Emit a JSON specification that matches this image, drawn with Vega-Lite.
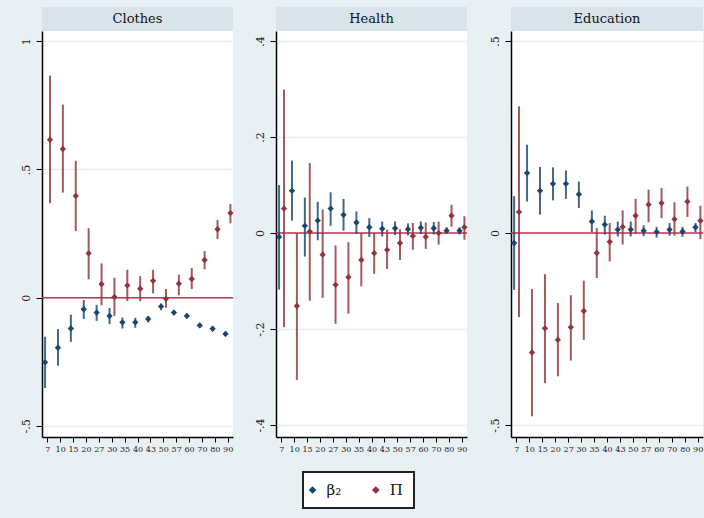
{
  "$schema": "https://vega.github.io/schema/vega-lite/v6.json",
  "background": "#e9f0f3",
  "padding": {"left": 20, "top": 7, "right": 2, "bottom": 10},
  "spacing": 18,
  "data": {"values": [
    {"panel":"Clothes","age":7,"series":"β₂","est":-0.252,"lo":-0.352,"hi":-0.152},
    {"panel":"Clothes","age":10,"series":"β₂","est":-0.195,"lo":-0.265,"hi":-0.122},
    {"panel":"Clothes","age":15,"series":"β₂","est":-0.12,"lo":-0.172,"hi":-0.066},
    {"panel":"Clothes","age":20,"series":"β₂","est":-0.045,"lo":-0.083,"hi":-0.009},
    {"panel":"Clothes","age":27,"series":"β₂","est":-0.058,"lo":-0.09,"hi":-0.028},
    {"panel":"Clothes","age":30,"series":"β₂","est":-0.071,"lo":-0.103,"hi":-0.04},
    {"panel":"Clothes","age":35,"series":"β₂","est":-0.096,"lo":-0.12,"hi":-0.077},
    {"panel":"Clothes","age":40,"series":"β₂","est":-0.096,"lo":-0.117,"hi":-0.078},
    {"panel":"Clothes","age":43,"series":"β₂","est":-0.083,"lo":-0.096,"hi":-0.071},
    {"panel":"Clothes","age":50,"series":"β₂","est":-0.034,"lo":-0.049,"hi":-0.023},
    {"panel":"Clothes","age":57,"series":"β₂","est":-0.058,"lo":-0.068,"hi":-0.048},
    {"panel":"Clothes","age":60,"series":"β₂","est":-0.071,"lo":-0.081,"hi":-0.061},
    {"panel":"Clothes","age":70,"series":"β₂","est":-0.108,"lo":-0.117,"hi":-0.099},
    {"panel":"Clothes","age":80,"series":"β₂","est":-0.121,"lo":-0.13,"hi":-0.112},
    {"panel":"Clothes","age":90,"series":"β₂","est":-0.141,"lo":-0.15,"hi":-0.132},
    {"panel":"Clothes","age":7,"series":"Π","est":0.616,"lo":0.369,"hi":0.866},
    {"panel":"Clothes","age":10,"series":"Π","est":0.58,"lo":0.41,"hi":0.753},
    {"panel":"Clothes","age":15,"series":"Π","est":0.397,"lo":0.26,"hi":0.534},
    {"panel":"Clothes","age":20,"series":"Π","est":0.173,"lo":0.072,"hi":0.271},
    {"panel":"Clothes","age":27,"series":"Π","est":0.053,"lo":-0.029,"hi":0.134},
    {"panel":"Clothes","age":30,"series":"Π","est":0.003,"lo":-0.071,"hi":0.078},
    {"panel":"Clothes","age":35,"series":"Π","est":0.048,"lo":-0.013,"hi":0.109},
    {"panel":"Clothes","age":40,"series":"Π","est":0.035,"lo":-0.014,"hi":0.084},
    {"panel":"Clothes","age":43,"series":"Π","est":0.066,"lo":0.017,"hi":0.109},
    {"panel":"Clothes","age":50,"series":"Π","est":-0.004,"lo":-0.039,"hi":0.034},
    {"panel":"Clothes","age":57,"series":"Π","est":0.055,"lo":0.01,"hi":0.09},
    {"panel":"Clothes","age":60,"series":"Π","est":0.073,"lo":0.034,"hi":0.116},
    {"panel":"Clothes","age":70,"series":"Π","est":0.147,"lo":0.111,"hi":0.182},
    {"panel":"Clothes","age":80,"series":"Π","est":0.267,"lo":0.229,"hi":0.303},
    {"panel":"Clothes","age":90,"series":"Π","est":0.33,"lo":0.29,"hi":0.365},
    {"panel":"Health","age":7,"series":"β₂","est":-0.008,"lo":-0.118,"hi":0.1},
    {"panel":"Health","age":10,"series":"β₂","est":0.088,"lo":0.026,"hi":0.151},
    {"panel":"Health","age":15,"series":"β₂","est":0.015,"lo":-0.049,"hi":0.074},
    {"panel":"Health","age":20,"series":"β₂","est":0.026,"lo":-0.015,"hi":0.065},
    {"panel":"Health","age":27,"series":"β₂","est":0.051,"lo":0.015,"hi":0.085},
    {"panel":"Health","age":30,"series":"β₂","est":0.038,"lo":0.005,"hi":0.071},
    {"panel":"Health","age":35,"series":"β₂","est":0.022,"lo":-0.002,"hi":0.045},
    {"panel":"Health","age":40,"series":"β₂","est":0.012,"lo":-0.008,"hi":0.031},
    {"panel":"Health","age":43,"series":"β₂","est":0.009,"lo":-0.007,"hi":0.024},
    {"panel":"Health","age":50,"series":"β₂","est":0.01,"lo":-0.004,"hi":0.024},
    {"panel":"Health","age":57,"series":"β₂","est":0.008,"lo":-0.005,"hi":0.02},
    {"panel":"Health","age":60,"series":"β₂","est":0.011,"lo":-0.002,"hi":0.024},
    {"panel":"Health","age":70,"series":"β₂","est":0.01,"lo":-0.003,"hi":0.023},
    {"panel":"Health","age":80,"series":"β₂","est":0.005,"lo":-0.002,"hi":0.012},
    {"panel":"Health","age":90,"series":"β₂","est":0.005,"lo":-0.003,"hi":0.012},
    {"panel":"Health","age":7,"series":"Π","est":0.051,"lo":-0.196,"hi":0.299},
    {"panel":"Health","age":10,"series":"Π","est":-0.152,"lo":-0.306,"hi":0.0},
    {"panel":"Health","age":15,"series":"Π","est":0.003,"lo":-0.141,"hi":0.146},
    {"panel":"Health","age":20,"series":"Π","est":-0.045,"lo":-0.135,"hi":0.049},
    {"panel":"Health","age":27,"series":"Π","est":-0.108,"lo":-0.189,"hi":-0.026},
    {"panel":"Health","age":30,"series":"Π","est":-0.092,"lo":-0.168,"hi":-0.019},
    {"panel":"Health","age":35,"series":"Π","est":-0.056,"lo":-0.111,"hi":0.0},
    {"panel":"Health","age":40,"series":"Π","est":-0.042,"lo":-0.085,"hi":0.0},
    {"panel":"Health","age":43,"series":"Π","est":-0.035,"lo":-0.075,"hi":0.007},
    {"panel":"Health","age":50,"series":"Π","est":-0.021,"lo":-0.056,"hi":0.008},
    {"panel":"Health","age":57,"series":"Π","est":-0.006,"lo":-0.035,"hi":0.021},
    {"panel":"Health","age":60,"series":"Π","est":-0.008,"lo":-0.033,"hi":0.022},
    {"panel":"Health","age":70,"series":"Π","est":0.0,"lo":-0.024,"hi":0.024},
    {"panel":"Health","age":80,"series":"Π","est":0.036,"lo":0.013,"hi":0.059},
    {"panel":"Health","age":90,"series":"Π","est":0.012,"lo":-0.014,"hi":0.035},
    {"panel":"Education","age":7,"series":"β₂","est":-0.026,"lo":-0.148,"hi":0.096},
    {"panel":"Education","age":10,"series":"β₂","est":0.156,"lo":0.082,"hi":0.23},
    {"panel":"Education","age":15,"series":"β₂","est":0.11,"lo":0.048,"hi":0.172},
    {"panel":"Education","age":20,"series":"β₂","est":0.128,"lo":0.085,"hi":0.171},
    {"panel":"Education","age":27,"series":"β₂","est":0.128,"lo":0.089,"hi":0.163},
    {"panel":"Education","age":30,"series":"β₂","est":0.101,"lo":0.065,"hi":0.134},
    {"panel":"Education","age":35,"series":"β₂","est":0.03,"lo":0.002,"hi":0.059},
    {"panel":"Education","age":40,"series":"β₂","est":0.022,"lo":-0.004,"hi":0.045},
    {"panel":"Education","age":43,"series":"β₂","est":0.009,"lo":-0.009,"hi":0.03},
    {"panel":"Education","age":50,"series":"β₂","est":0.009,"lo":-0.009,"hi":0.03},
    {"panel":"Education","age":57,"series":"β₂","est":0.006,"lo":-0.008,"hi":0.02},
    {"panel":"Education","age":60,"series":"β₂","est":0.003,"lo":-0.012,"hi":0.016},
    {"panel":"Education","age":70,"series":"β₂","est":0.009,"lo":-0.007,"hi":0.026},
    {"panel":"Education","age":80,"series":"β₂","est":0.004,"lo":-0.01,"hi":0.016},
    {"panel":"Education","age":90,"series":"β₂","est":0.015,"lo":0.002,"hi":0.026},
    {"panel":"Education","age":7,"series":"Π","est":0.055,"lo":-0.219,"hi":0.33},
    {"panel":"Education","age":10,"series":"Π","est":-0.311,"lo":-0.477,"hi":-0.146},
    {"panel":"Education","age":15,"series":"Π","est":-0.248,"lo":-0.391,"hi":-0.107},
    {"panel":"Education","age":20,"series":"Π","est":-0.278,"lo":-0.373,"hi":-0.182},
    {"panel":"Education","age":27,"series":"Π","est":-0.245,"lo":-0.332,"hi":-0.162},
    {"panel":"Education","age":30,"series":"Π","est":-0.203,"lo":-0.278,"hi":-0.124},
    {"panel":"Education","age":35,"series":"Π","est":-0.052,"lo":-0.117,"hi":0.013},
    {"panel":"Education","age":40,"series":"Π","est":-0.023,"lo":-0.074,"hi":0.026},
    {"panel":"Education","age":43,"series":"Π","est":0.016,"lo":-0.03,"hi":0.059},
    {"panel":"Education","age":50,"series":"Π","est":0.045,"lo":-0.002,"hi":0.089},
    {"panel":"Education","age":57,"series":"Π","est":0.074,"lo":0.028,"hi":0.113},
    {"panel":"Education","age":60,"series":"Π","est":0.078,"lo":0.039,"hi":0.117},
    {"panel":"Education","age":70,"series":"Π","est":0.036,"lo":-0.007,"hi":0.08},
    {"panel":"Education","age":80,"series":"Π","est":0.082,"lo":0.042,"hi":0.121},
    {"panel":"Education","age":90,"series":"Π","est":0.032,"lo":-0.016,"hi":0.071}
  ]},
  "vconcat": [
    {
      "spacing": 20,
      "hconcat": [
        {
          "spacing": 0,
          "vconcat": [
            {
              "data": {"values": [{"title": "Clothes"}]},
              "width": 191, "height": 24,
              "view": {"fill": "#d8e3ea", "stroke": null},
              "mark": {"type": "text", "font": "DejaVu Serif", "fontSize": 13, "color": "#111111"},
              "encoding": {"text": {"field": "title", "type": "nominal"}}
            },
            {
              "width": 191, "height": 406,
              "transform": [{"filter": "datum.panel == 'Clothes'"}],
              "layer": [
                {
                  "data": {"values": [{"zero": 0}]},
                  "mark": {"type": "rule", "color": "#c8324f", "strokeWidth": 1.5},
                  "encoding": {"y": {"field": "zero", "type": "quantitative"}}
                },
                {
                  "mark": {"type": "rule", "strokeWidth": 2, "opacity": 0.82},
                  "encoding": {
                    "x": {"field": "age", "type": "ordinal", "scale": {"type": "point", "padding": 0.41}},
                    "xOffset": {"field": "series", "type": "nominal", "scale": {"type": "point", "domain": ["β₂", "Π"], "range": [-2.2, 2.7], "padding": 0}},
                    "y": {"field": "lo", "type": "quantitative"},
                    "y2": {"field": "hi"},
                    "color": {"field": "series", "type": "nominal", "scale": {"domain": ["β₂", "Π"], "range": ["#1a476f", "#90353b"]}, "legend": null}
                  }
                },
                {
                  "mark": {"type": "point", "shape": "diamond", "filled": true, "size": 40, "opacity": 1},
                  "encoding": {
                    "x": {"field": "age", "type": "ordinal", "scale": {"type": "point", "padding": 0.41}},
                    "xOffset": {"field": "series", "type": "nominal", "scale": {"type": "point", "domain": ["β₂", "Π"], "range": [-2.2, 2.7], "padding": 0}},
                    "y": {"field": "est", "type": "quantitative"},
                    "color": {"field": "series", "type": "nominal", "scale": {"domain": ["β₂", "Π"], "range": ["#1a476f", "#90353b"]}, "legend": null}
                  }
                }
              ],
              "encoding": {
                "y": {"scale": {"domain": [-0.543, 1.04], "nice": false, "zero": false}, "axis": {"values": [-0.5, 0, 0.5, 1]}}
              }
            }
          ]
        },
        {
          "spacing": 0,
          "vconcat": [
            {
              "data": {"values": [{"title": "Health"}]},
              "width": 191, "height": 24,
              "view": {"fill": "#d8e3ea", "stroke": null},
              "mark": {"type": "text", "font": "DejaVu Serif", "fontSize": 13, "color": "#111111"},
              "encoding": {"text": {"field": "title", "type": "nominal"}}
            },
            {
              "width": 191, "height": 406,
              "transform": [{"filter": "datum.panel == 'Health'"}],
              "layer": [
                {
                  "data": {"values": [{"zero": 0}]},
                  "mark": {"type": "rule", "color": "#c8324f", "strokeWidth": 1.5},
                  "encoding": {"y": {"field": "zero", "type": "quantitative"}}
                },
                {
                  "mark": {"type": "rule", "strokeWidth": 2, "opacity": 0.82},
                  "encoding": {
                    "x": {"field": "age", "type": "ordinal", "scale": {"type": "point", "padding": 0.41}},
                    "xOffset": {"field": "series", "type": "nominal", "scale": {"type": "point", "domain": ["β₂", "Π"], "range": [-2.2, 2.7], "padding": 0}},
                    "y": {"field": "lo", "type": "quantitative"},
                    "y2": {"field": "hi"},
                    "color": {"field": "series", "type": "nominal", "scale": {"domain": ["β₂", "Π"], "range": ["#1a476f", "#90353b"]}, "legend": null}
                  }
                },
                {
                  "mark": {"type": "point", "shape": "diamond", "filled": true, "size": 40, "opacity": 1},
                  "encoding": {
                    "x": {"field": "age", "type": "ordinal", "scale": {"type": "point", "padding": 0.41}},
                    "xOffset": {"field": "series", "type": "nominal", "scale": {"type": "point", "domain": ["β₂", "Π"], "range": [-2.2, 2.7], "padding": 0}},
                    "y": {"field": "est", "type": "quantitative"},
                    "color": {"field": "series", "type": "nominal", "scale": {"domain": ["β₂", "Π"], "range": ["#1a476f", "#90353b"]}, "legend": null}
                  }
                }
              ],
              "encoding": {
                "y": {"scale": {"domain": [-0.425, 0.421], "nice": false, "zero": false}, "axis": {"values": [-0.4, -0.2, 0, 0.2, 0.4]}}
              }
            }
          ]
        },
        {
          "spacing": 0,
          "vconcat": [
            {
              "data": {"values": [{"title": "Education"}]},
              "width": 192, "height": 24,
              "view": {"fill": "#d8e3ea", "stroke": null},
              "mark": {"type": "text", "font": "DejaVu Serif", "fontSize": 13, "color": "#111111"},
              "encoding": {"text": {"field": "title", "type": "nominal"}}
            },
            {
              "width": 192, "height": 406,
              "transform": [{"filter": "datum.panel == 'Education'"}],
              "layer": [
                {
                  "data": {"values": [{"zero": 0}]},
                  "mark": {"type": "rule", "color": "#c8324f", "strokeWidth": 1.5},
                  "encoding": {"y": {"field": "zero", "type": "quantitative"}}
                },
                {
                  "mark": {"type": "rule", "strokeWidth": 2, "opacity": 0.82},
                  "encoding": {
                    "x": {"field": "age", "type": "ordinal", "scale": {"type": "point", "padding": 0.41}},
                    "xOffset": {"field": "series", "type": "nominal", "scale": {"type": "point", "domain": ["β₂", "Π"], "range": [-2.2, 2.7], "padding": 0}},
                    "y": {"field": "lo", "type": "quantitative"},
                    "y2": {"field": "hi"},
                    "color": {"field": "series", "type": "nominal", "scale": {"domain": ["β₂", "Π"], "range": ["#1a476f", "#90353b"]}, "legend": null}
                  }
                },
                {
                  "mark": {"type": "point", "shape": "diamond", "filled": true, "size": 40, "opacity": 1},
                  "encoding": {
                    "x": {"field": "age", "type": "ordinal", "scale": {"type": "point", "padding": 0.41}},
                    "xOffset": {"field": "series", "type": "nominal", "scale": {"type": "point", "domain": ["β₂", "Π"], "range": [-2.2, 2.7], "padding": 0}},
                    "y": {"field": "est", "type": "quantitative"},
                    "color": {"field": "series", "type": "nominal", "scale": {"domain": ["β₂", "Π"], "range": ["#1a476f", "#90353b"]}, "legend": null}
                  }
                }
              ],
              "encoding": {
                "y": {"scale": {"domain": [-0.531, 0.526], "nice": false, "zero": false}, "axis": {"values": [-0.5, 0, 0.5]}}
              }
            }
          ]
        }
      ]
    },
    {
      "spacing": 0,
      "hconcat": [
        {
          "data": {"values": []},
          "width": 260, "height": 36,
          "view": {"fill": null, "stroke": null},
          "mark": {"type": "point"},
          "encoding": {}
        },
        {
          "data": {"values": [{"series": "β₂"}, {"series": "Π"}]},
          "width": 111, "height": 36,
          "view": {"fill": "#ffffff", "stroke": "#222222", "strokeWidth": 2},
          "encoding": {
            "x": {"field": "series", "type": "nominal", "axis": null, "scale": {"type": "point", "domain": ["β₂", "Π"], "padding": 0.377, "align": 0.2}}
          },
          "layer": [
            {
              "mark": {"type": "point", "shape": "diamond", "filled": true, "size": 60, "opacity": 1},
              "encoding": {
                "color": {"field": "series", "type": "nominal", "scale": {"domain": ["β₂", "Π"], "range": ["#1a476f", "#90353b"]}, "legend": null}
              }
            },
            {
              "mark": {"type": "text", "align": "left", "dx": 14, "font": "DejaVu Serif", "fontSize": 15, "color": "#111111"},
              "encoding": {"text": {"field": "series", "type": "nominal"}}
            }
          ]
        }
      ]
    }
  ],
  "config": {
    "view": {"fill": "#ffffff", "stroke": null},
    "font": "DejaVu Serif",
    "axis": {"title": null, "domainColor": "#000000", "tickColor": "#000000", "labelColor": "#222222", "labelFont": "DejaVu Serif"},
    "axisX": {"labelAngle": 0, "labelFontSize": 8, "tickSize": 5, "domainWidth": 1.5, "grid": false, "labelPadding": 3},
    "axisY": {"labelAngle": -90, "labelFontSize": 11, "tickSize": 6, "labelPadding": 5, "domainWidth": 1.5, "grid": true, "gridColor": "#e6edf1", "gridWidth": 1.5,
      "labelExpr": "datum.value == 0 ? '0' : datum.value == 1 ? '1' : (datum.value < 0 ? '-' : '') + '.' + round(abs(datum.value) * 10)"}
  }
}
